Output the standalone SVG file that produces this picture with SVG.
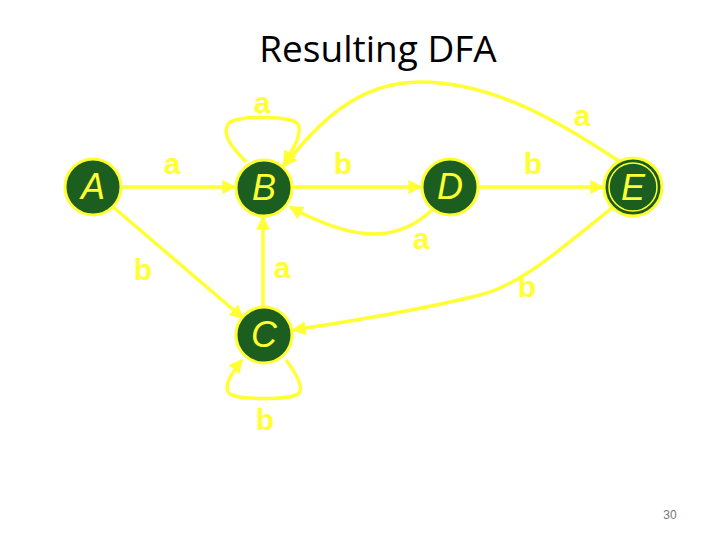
<svg xmlns="http://www.w3.org/2000/svg" width="720" height="540" viewBox="0 0 720 540">
<style>
.node{fill:#1b5e20;stroke:#ffff33;stroke-width:3}
.ring{fill:none;stroke:#ffff33;stroke-width:1.5}
.nt{font-family:"Liberation Sans",Arial,sans-serif;font-style:italic;font-size:36px;fill:#ffff33;text-anchor:middle}
.lbl{font-family:"Liberation Sans",Arial,sans-serif;font-weight:bold;font-size:30px;fill:#ffff33;text-anchor:middle}
.e{fill:none;stroke:#ffff33;stroke-width:3.5;marker-end:url(#ah)}
</style>
<defs>
<marker id="ah" viewBox="0 0 10 10" refX="9" refY="5" markerWidth="4" markerHeight="4" orient="auto" markerUnits="strokeWidth">
<path d="M0,0 L10,5 L0,10 z" fill="#ffff33"/>
</marker>
</defs>
<rect width="720" height="540" fill="#ffffff"/>
<text x="378" y="62" font-family="'Open Sans','Liberation Sans',sans-serif" font-size="37" fill="#000" text-anchor="middle">Resulting DFA</text>
<text x="670" y="519" font-family="'Liberation Sans',Arial,sans-serif" font-size="12" fill="#777" text-anchor="middle">30</text>
<g id="connectors">
<path class="e" d="M122,187 L235,187"/>
<path class="e" d="M246,162 C230,145 222,135 228,124 C233,115 292,115 298,124 C303,135 292,150 284,164"/>
<path class="e" d="M293,187 L421,187"/>
<path class="e" d="M479,187 L603,187"/>
<path class="e" d="M619,161 C570,130 500,82 420,82 C360,82 320,120 284,166"/>
<path class="e" d="M432,210 C400,240 360,245 290,207"/>
<path class="e" d="M112,206 L243,318"/>
<path class="e" d="M263,306 L263,217"/>
<path class="e" d="M613,207 C560,250 520,285 480,295 C420,310 360,320 293,330"/>
<path class="e" d="M286,360 C295,372 305,388 298,394 C290,400 240,400 230,394 C222,388 232,372 242,360"/>
</g>
<g id="A"><circle class="node" cx="93" cy="187" r="28"/><text class="nt" x="93" y="199">A</text></g>
<g id="B"><circle class="node" cx="264" cy="188" r="28"/><text class="nt" x="264" y="200">B</text></g>
<g id="D"><circle class="node" cx="450" cy="187" r="28"/><text class="nt" x="450" y="199">D</text></g>
<g id="E"><circle class="node" cx="633" cy="187" r="29"/><circle class="ring" cx="633" cy="187" r="24"/><text class="nt" x="633" y="200">E</text></g>
<g id="C"><circle class="node" cx="264" cy="335" r="28"/><text class="nt" x="264" y="347">C</text></g>
<g id="labels">
<text class="lbl" x="262" y="113">a</text>
<text class="lbl" x="172" y="174">a</text>
<text class="lbl" x="143" y="280">b</text>
<text class="lbl" x="282" y="278">a</text>
<text class="lbl" x="343" y="174">b</text>
<text class="lbl" x="421" y="249">a</text>
<text class="lbl" x="533" y="174">b</text>
<text class="lbl" x="582" y="126">a</text>
<text class="lbl" x="527" y="297">b</text>
<text class="lbl" x="265" y="430">b</text>
</g>
</svg>
